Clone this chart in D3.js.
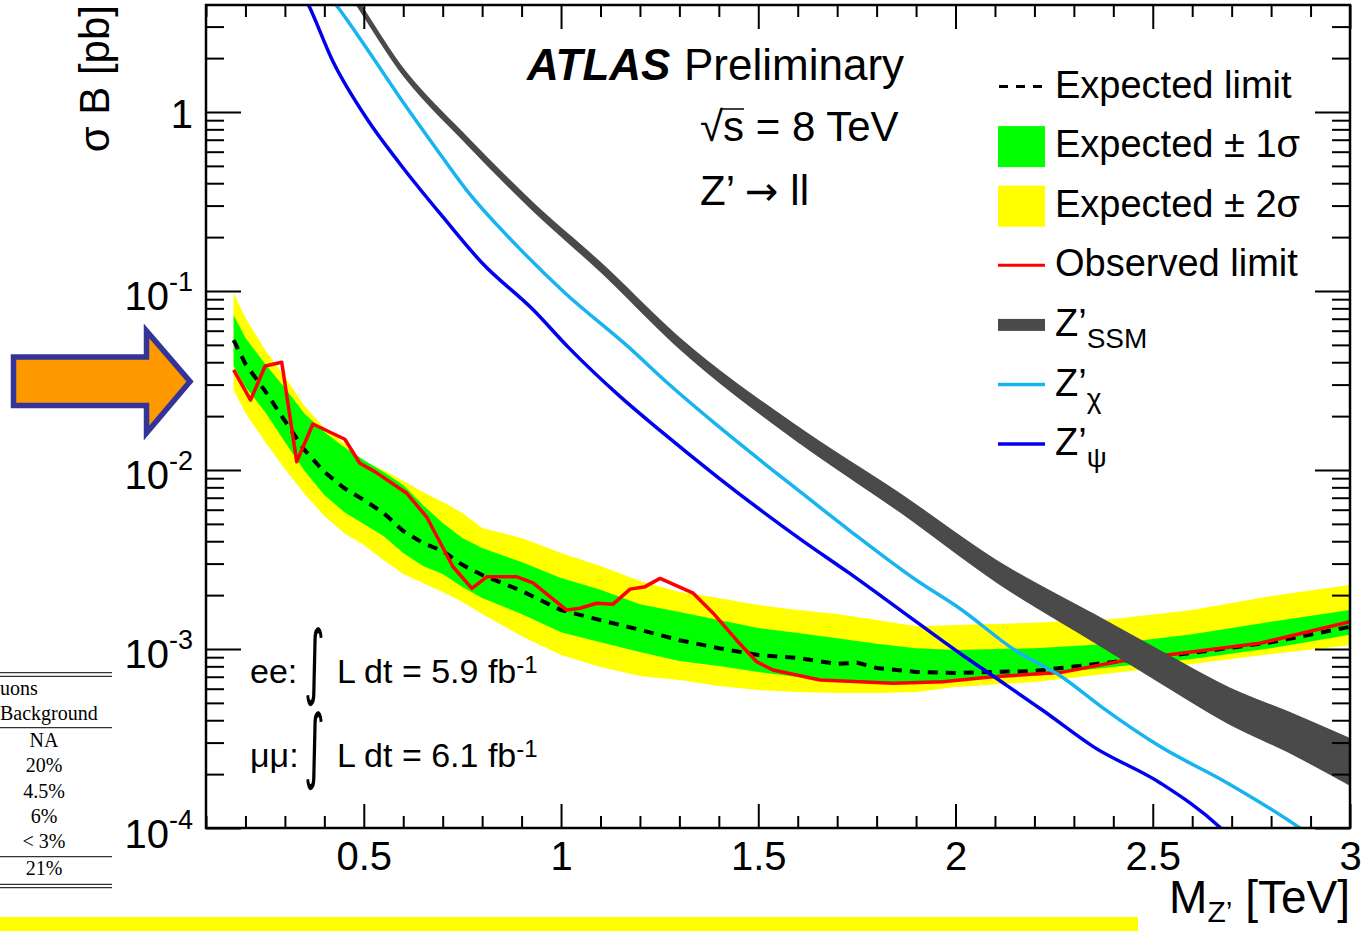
<!DOCTYPE html>
<html>
<head>
<meta charset="utf-8">
<script src="https://cdn.jsdelivr.net/npm/d3@7"></script>
<style>
  body { margin: 0; background: #fff; }
  svg { display: block; font-family: "Liberation Sans", Arial, Helvetica, sans-serif; }
</style>
</head>
<body>
<div id="chart"></div>
<script>
// expected limit and its bands (pb), common mass grid (TeV)
const massGrid = [0.17, 0.20, 0.25, 0.30, 0.35, 0.40, 0.45, 0.50, 0.55, 0.60, 0.65, 0.70, 0.75, 0.80, 0.90, 1.00,
  1.10, 1.20, 1.30, 1.40, 1.50, 1.60, 1.70, 1.75, 1.80, 1.90, 2.00, 2.20, 2.40, 2.60, 2.80, 3.00];
const expLimit = [0.0532, 0.0391, 0.0276, 0.0188, 0.01293, 0.00975, 0.00793, 0.00680, 0.00575, 0.00456, 0.00391,
  0.00353, 0.00295, 0.00259, 0.00211, 0.00165, 0.00145, 0.00128, 0.00112, 0.00101, 0.000926, 0.000891, 0.000825,
  0.000840, 0.000783, 0.000744, 0.000734, 0.000754, 0.000846, 0.000950, 0.00109, 0.00133];
const g1Hi = [0.0734, 0.0546, 0.0391, 0.0287, 0.0206, 0.01631, 0.01344, 0.01137, 0.00975, 0.00825, 0.00637, 0.00506,
  0.00417, 0.00367, 0.00306, 0.00249, 0.00214, 0.00178, 0.00161, 0.00145, 0.00131, 0.00123, 0.00115, 0.00111,
  0.00107, 0.00101, 0.000987, 0.00101, 0.00107, 0.00121, 0.00142, 0.00165];
const g1Lo = [0.0381, 0.0291, 0.0211, 0.01433, 0.00987, 0.00725, 0.00583, 0.00499, 0.00428, 0.00344, 0.00291, 0.00262,
  0.00222, 0.00193, 0.00157, 0.00124, 0.00109, 0.000962, 0.000857, 0.000804, 0.000744, 0.000698, 0.000671, 0.000663,
  0.000654, 0.000654, 0.000663, 0.000716, 0.000793, 0.000879, 0.00101, 0.00120];
const y2Hi = [0.0975, 0.0707, 0.0468, 0.0331, 0.0228, 0.01717, 0.01415, 0.01108, 0.01000, 0.00868, 0.00754, 0.00663,
  0.00575, 0.00474, 0.00417, 0.00344, 0.00291, 0.00240, 0.00208, 0.00193, 0.00176, 0.00165, 0.00157, 0.00151,
  0.00145, 0.00134, 0.00136, 0.00140, 0.00147, 0.00165, 0.00198, 0.00228];
const y2Lo = [0.0280, 0.0208, 0.01433, 0.01013, 0.00734, 0.00553, 0.00445, 0.00381, 0.00314, 0.00262, 0.00234, 0.00208,
  0.00183, 0.00157, 0.00118, 0.000926, 0.000793, 0.000707, 0.000671, 0.000621, 0.000590, 0.000575, 0.000568, 0.000568,
  0.000568, 0.000575, 0.000613, 0.000654, 0.000734, 0.000825, 0.000938, 0.00105];

// observed limit
const obsMass = [0.17, 0.213, 0.25, 0.292, 0.33, 0.371, 0.452, 0.49, 0.528, 0.609, 0.659, 0.726, 0.774, 0.812, 0.888,
  0.929, 1.014, 1.048, 1.09, 1.132, 1.175, 1.213, 1.251, 1.335, 1.385, 1.445, 1.496, 1.537, 1.657, 1.842, 1.968,
  2.095, 2.265, 2.434, 2.602, 2.772, 3.0];
const obsLimit = [0.0362, 0.0246, 0.0381, 0.0400, 0.01112, 0.01807, 0.01485, 0.01090, 0.00979, 0.00741, 0.00548,
  0.00288, 0.00218, 0.00253, 0.00253, 0.00234, 0.00165, 0.00169, 0.00180, 0.00178, 0.00216, 0.00223, 0.00248,
  0.00205, 0.00159, 0.00112, 0.000849, 0.000763, 0.000671, 0.000643, 0.000656, 0.000700, 0.000738, 0.000869,
  0.000966, 0.001076, 0.001422];

// theory curves
const ssmMass = [0.45, 0.49, 0.59, 0.76, 0.93, 1.10, 1.30, 1.61, 1.86, 2.11, 2.35, 2.52, 2.69, 2.86, 3.00];
const ssmHi = [5.45, 3.99, 1.84, 0.722, 0.306, 0.1424, 0.0542, 0.01666, 0.00727, 0.00303, 0.00155, 0.000964,
  0.000607, 0.000426, 0.000313];
const ssmLo = [5.15, 3.77, 1.74, 0.674, 0.283, 0.1299, 0.0483, 0.01405, 0.00588, 0.00234, 0.00111, 0.000652,
  0.000389, 0.000257, 0.000175];
const chiMass = [0.40, 0.43, 0.51, 0.59, 0.68, 0.76, 0.89, 1.01, 1.17, 1.27, 1.40, 1.61, 1.73, 1.90, 2.01, 2.15,
  2.27, 2.37, 2.52, 2.69, 2.87, 2.95];
const chiXsec = [4.8, 3.96, 2.22, 1.218, 0.640, 0.367, 0.177, 0.0975, 0.0489, 0.0306, 0.01745, 0.00744, 0.00462,
  0.00243, 0.00169, 0.000987, 0.000698, 0.000475, 0.000284, 0.000178, 0.000101, 0.000075];
const psiMass = [0.32, 0.36, 0.42, 0.51, 0.59, 0.70, 0.80, 0.93, 1.02, 1.15, 1.25, 1.40, 1.61, 1.73, 1.86, 2.01,
  2.11, 2.22, 2.35, 2.52, 2.67, 2.75];
const psiXsec = [5.8, 3.96, 1.952, 0.902, 0.519, 0.260, 0.1433, 0.0783, 0.0481, 0.0257, 0.0167, 0.00902, 0.00406,
  0.00266, 0.00165, 0.000950, 0.000671, 0.000456, 0.000284, 0.000178, 0.000101, 0.000066];

// ticks
const xMajor = [0.5, 1, 1.5, 2, 2.5, 3];
const xTickLabels = ["0.5", "1", "1.5", "2", "2.5", "3"];
const yMajor = [1e-4, 1e-3, 1e-2, 1e-1, 1];
const yTickBase = ["10", "10", "10", "10", "1"];
const yTickExp = ["-4", "-3", "-2", "-1", ""];

// side table (cut off at the left edge)
const tableRows = ["NA", "20%", "4.5%", "6%", "< 3%"];
const tableTotal = "21%";

const width = 1372, height = 931;
const frame = {left: 206, right: 1350, top: 5, bottom: 828};

const svg = d3.select("#chart").append("svg")
  .attr("width", width)
  .attr("height", height);

const x = d3.scaleLinear().domain([0.1, 3.0]).range([frame.left, frame.right]);
const y = d3.scaleLog().domain([1e-4, 3.96]).range([frame.bottom, frame.top]);

svg.append("clipPath").attr("id", "plotclip")
  .append("rect")
    .attr("x", frame.left).attr("y", frame.top)
    .attr("width", frame.right - frame.left).attr("height", frame.bottom - frame.top);

const plot = svg.append("g").attr("clip-path", "url(#plotclip)");

const bandRows = massGrid.map((m, i) => ({m, y2lo: y2Lo[i], y2hi: y2Hi[i], g1lo: g1Lo[i], g1hi: g1Hi[i], exp: expLimit[i]}));

plot.append("path")
    .datum(bandRows)
    .attr("fill", "#ffff00")
    .attr("d", d3.area().x(d => x(d.m)).y0(d => y(d.y2lo)).y1(d => y(d.y2hi)));

plot.append("path")
    .datum(bandRows)
    .attr("fill", "#00ff00")
    .attr("d", d3.area().x(d => x(d.m)).y0(d => y(d.g1lo)).y1(d => y(d.g1hi)));

plot.append("path")
    .datum(bandRows)
    .attr("fill", "none")
    .attr("stroke", "#000")
    .attr("stroke-width", 4)
    .attr("stroke-dasharray", "10,8")
    .attr("d", d3.line().x(d => x(d.m)).y(d => y(d.exp)));

plot.append("path")
    .datum(obsMass.map((m, i) => ({m, v: obsLimit[i]})))
    .attr("fill", "none")
    .attr("stroke", "#ff0000")
    .attr("stroke-width", 3.5)
    .attr("stroke-linejoin", "round")
    .attr("d", d3.line().x(d => x(d.m)).y(d => y(d.v)));

// SSM band
const ssmRows = ssmMass.map((m, i) => ({m, lo: ssmLo[i], hi: ssmHi[i]}));
plot.append("path")
    .datum(ssmRows)
    .attr("fill", "#4a4a4a")
    .attr("stroke", "#4a4a4a")
    .attr("stroke-width", 2.5)
    .attr("d", d3.area().curve(d3.curveMonotoneX).x(d => x(d.m)).y0(d => y(d.lo)).y1(d => y(d.hi)));

const theoryLine = d3.line().curve(d3.curveMonotoneX).x(d => x(d.m)).y(d => y(d.v));

plot.append("path")
    .datum(chiMass.map((m, i) => ({m, v: chiXsec[i]})))
    .attr("fill", "none")
    .attr("stroke", "#18b4f0")
    .attr("stroke-width", 3.5)
    .attr("d", theoryLine);

plot.append("path")
    .datum(psiMass.map((m, i) => ({m, v: psiXsec[i]})))
    .attr("fill", "none")
    .attr("stroke", "#0000ee")
    .attr("stroke-width", 3.5)
    .attr("d", theoryLine);

// axes: ticks inside on all four sides
const xMinor = x.ticks(29).filter(d => Math.abs(d * 2 - Math.round(d * 2)) > 1e-6);
const yMinor = y.ticks().filter(d => Math.abs(Math.log10(d) - Math.round(Math.log10(d))) > 1e-6);

function styleAxis(g) {
  g.select(".domain").remove();
  g.selectAll("line").attr("stroke", "#000").attr("stroke-width", 2);
  g.attr("font-family", null).attr("font-size", 40);
}

const xAxisB = svg.append("g")
    .attr("transform", `translate(0,${frame.bottom})`)
    .call(d3.axisBottom(x).tickValues(xMajor).tickSize(-24).tickPadding(14)
      .tickFormat((d, i) => xTickLabels[i]))
    .call(styleAxis);
xAxisB.selectAll("text").attr("fill", "#000");

svg.append("g")
    .attr("transform", `translate(0,${frame.bottom})`)
    .call(d3.axisBottom(x).tickValues(xMinor).tickSize(-12).tickFormat(""))
    .call(styleAxis);
svg.append("g")
    .attr("transform", `translate(0,${frame.top})`)
    .call(d3.axisTop(x).tickValues(xMajor).tickSize(-24).tickFormat(""))
    .call(styleAxis);
svg.append("g")
    .attr("transform", `translate(0,${frame.top})`)
    .call(d3.axisTop(x).tickValues(xMinor).tickSize(-12).tickFormat(""))
    .call(styleAxis);

const yAxisL = svg.append("g")
    .attr("transform", `translate(${frame.left},0)`)
    .call(d3.axisLeft(y).tickValues(yMajor).tickSize(-35).tickPadding(13).tickFormat(""))
    .call(styleAxis);
yAxisL.selectAll(".tick text").each(function(d, i) {
  const t = d3.select(this).attr("dy", null).attr("fill", "#000");
  if (yTickExp[i]) {
    t.attr("y", 19);
    t.append("tspan").text(yTickBase[i]);
    t.append("tspan").attr("dy", -19).attr("font-size", 27).text(yTickExp[i]);
  } else {
    t.attr("y", 16).text(yTickBase[i]);
  }
});
svg.append("g")
    .attr("transform", `translate(${frame.left},0)`)
    .call(d3.axisLeft(y).tickValues(yMinor).tickSize(-18).tickFormat(""))
    .call(styleAxis);
svg.append("g")
    .attr("transform", `translate(${frame.right},0)`)
    .call(d3.axisRight(y).tickValues(yMajor).tickSize(-35).tickFormat(""))
    .call(styleAxis);
svg.append("g")
    .attr("transform", `translate(${frame.right},0)`)
    .call(d3.axisRight(y).tickValues(yMinor).tickSize(-18).tickFormat(""))
    .call(styleAxis);

svg.append("rect")
    .attr("x", frame.left).attr("y", frame.top)
    .attr("width", frame.right - frame.left).attr("height", frame.bottom - frame.top)
    .attr("fill", "none").attr("stroke", "#000").attr("stroke-width", 2.5);

// axis titles
svg.append("text")
    .attr("transform", "translate(109,5) rotate(-90)")
    .attr("text-anchor", "end")
    .attr("font-size", 42)
    .text("σ B [pb]");

const xTitle = svg.append("text")
    .attr("x", frame.right).attr("y", 913)
    .attr("text-anchor", "end")
    .attr("font-size", 46);
xTitle.append("tspan").text("M");
xTitle.append("tspan").attr("font-size", 30).attr("dy", 9).text("Z’");
xTitle.append("tspan").attr("dy", -9).text(" [TeV]");

// labels in the plot
svg.append("text").attr("x", 527).attr("y", 80)
    .attr("font-size", 44).attr("font-weight", "bold").attr("font-style", "italic")
    .text("ATLAS");
svg.append("text").attr("x", 684).attr("y", 80).attr("font-size", 44).text("Preliminary");

const sqrtText = svg.append("text").attr("x", 700).attr("y", 141).attr("font-size", 42);
sqrtText.append("tspan").text("√");
sqrtText.append("tspan").text("s = 8 TeV");
{
  const n = sqrtText.node();
  const x0 = n.getEndPositionOfChar(0).x;
  const x1 = n.getEndPositionOfChar(1).x;
  svg.append("line").attr("x1", x0 - 2).attr("x2", x1).attr("y1", 109).attr("y2", 109)
    .attr("stroke", "#000").attr("stroke-width", 1.5);
}
const zText = svg.append("text").attr("x", 700).attr("y", 205).attr("font-size", 42);
zText.append("tspan").text("Z’ ");
zText.append("tspan").attr("font-family", "DejaVu Sans").attr("font-size", 40).text("→");
zText.append("tspan").text(" ll");

// luminosity
const lumiRows = [
  {lab: "ee:", val: "L dt = 5.9 fb", base: 683},
  {lab: "μμ:", val: "L dt = 6.1 fb", base: 767}
];
lumiRows.forEach(r => {
  svg.append("text").attr("x", 250).attr("y", r.base).attr("font-size", 34).text(r.lab);
  svg.append("text")
      .attr("transform", `translate(304,${r.base + 6}) scale(1,2.05)`)
      .attr("font-size", 40).attr("font-family", "DejaVu Sans")
      .text("∫");
  const t = svg.append("text").attr("x", 337).attr("y", r.base).attr("font-size", 34);
  t.append("tspan").text(r.val);
  t.append("tspan").attr("dy", -10).attr("font-size", 24).text("-1");
});

// legend
const legend = svg.append("g").attr("font-size", 38);
const legendRows = [
  {type: "dash", label: "Expected limit"},
  {type: "box", fill: "#00ff00", label: "Expected ± 1σ"},
  {type: "box", fill: "#ffff00", label: "Expected ± 2σ"},
  {type: "line", color: "#ff0000", w: 3, label: "Observed limit"},
  {type: "bar", color: "#4a4a4a", label: "Z’", sub: "SSM"},
  {type: "line", color: "#18b4f0", w: 3.5, label: "Z’", sub: "χ"},
  {type: "line", color: "#0000ee", w: 3.5, label: "Z’", sub: "ψ"}
];
legendRows.forEach((r, i) => {
  const cy = 86.5 + i * 59.6;
  if (r.type === "dash") {
    legend.append("line").attr("x1", 999).attr("x2", 1045).attr("y1", cy).attr("y2", cy)
      .attr("stroke", "#000").attr("stroke-width", 3).attr("stroke-dasharray", "9,8");
  } else if (r.type === "box") {
    legend.append("rect").attr("x", 998).attr("y", cy - 20).attr("width", 47).attr("height", 41).attr("fill", r.fill);
  } else if (r.type === "bar") {
    legend.append("rect").attr("x", 998).attr("y", cy - 6).attr("width", 47).attr("height", 12).attr("fill", r.color);
  } else {
    legend.append("line").attr("x1", 998).attr("x2", 1045).attr("y1", cy).attr("y2", cy)
      .attr("stroke", r.color).attr("stroke-width", r.w);
  }
  const t = legend.append("text").attr("x", 1055).attr("y", cy + 11).attr("textLength", null);
  t.append("tspan").text(r.label);
  if (r.sub) t.append("tspan").attr("dy", 12).attr("font-size", 28).text(r.sub);
});

// pieces of the surrounding slide
svg.append("path")
    .attr("d", "M13.5,357 L146.5,357 L146.5,331 L190,381.5 L146.5,433 L146.5,405.5 L13.5,405.5 Z")
    .attr("fill", "#ff9900").attr("stroke", "#333399").attr("stroke-width", 5.5);

const tbl = svg.append("g").attr("font-family", "'Liberation Serif', 'Times New Roman', serif").attr("font-size", 20);
[672.7, 676.3, 727.7, 856.7, 884.3, 887.7].forEach(yy => {
  tbl.append("line").attr("x1", 0).attr("x2", 112).attr("y1", yy).attr("y2", yy)
    .attr("stroke", "#333").attr("stroke-width", 1.3);
});
tbl.append("text").attr("x", 0).attr("y", 695).text("uons");
tbl.append("text").attr("x", 0).attr("y", 720).text("Background");
tableRows.forEach((s, i) => {
  tbl.append("text").attr("x", 44).attr("y", 747 + i * 25.3).attr("text-anchor", "middle").text(s);
});
tbl.append("text").attr("x", 44).attr("y", 875).attr("text-anchor", "middle").text(tableTotal);

svg.append("rect").attr("x", 0).attr("y", 917).attr("width", 1138).attr("height", 14).attr("fill", "#ffff00");
</script>
</body>
</html>
